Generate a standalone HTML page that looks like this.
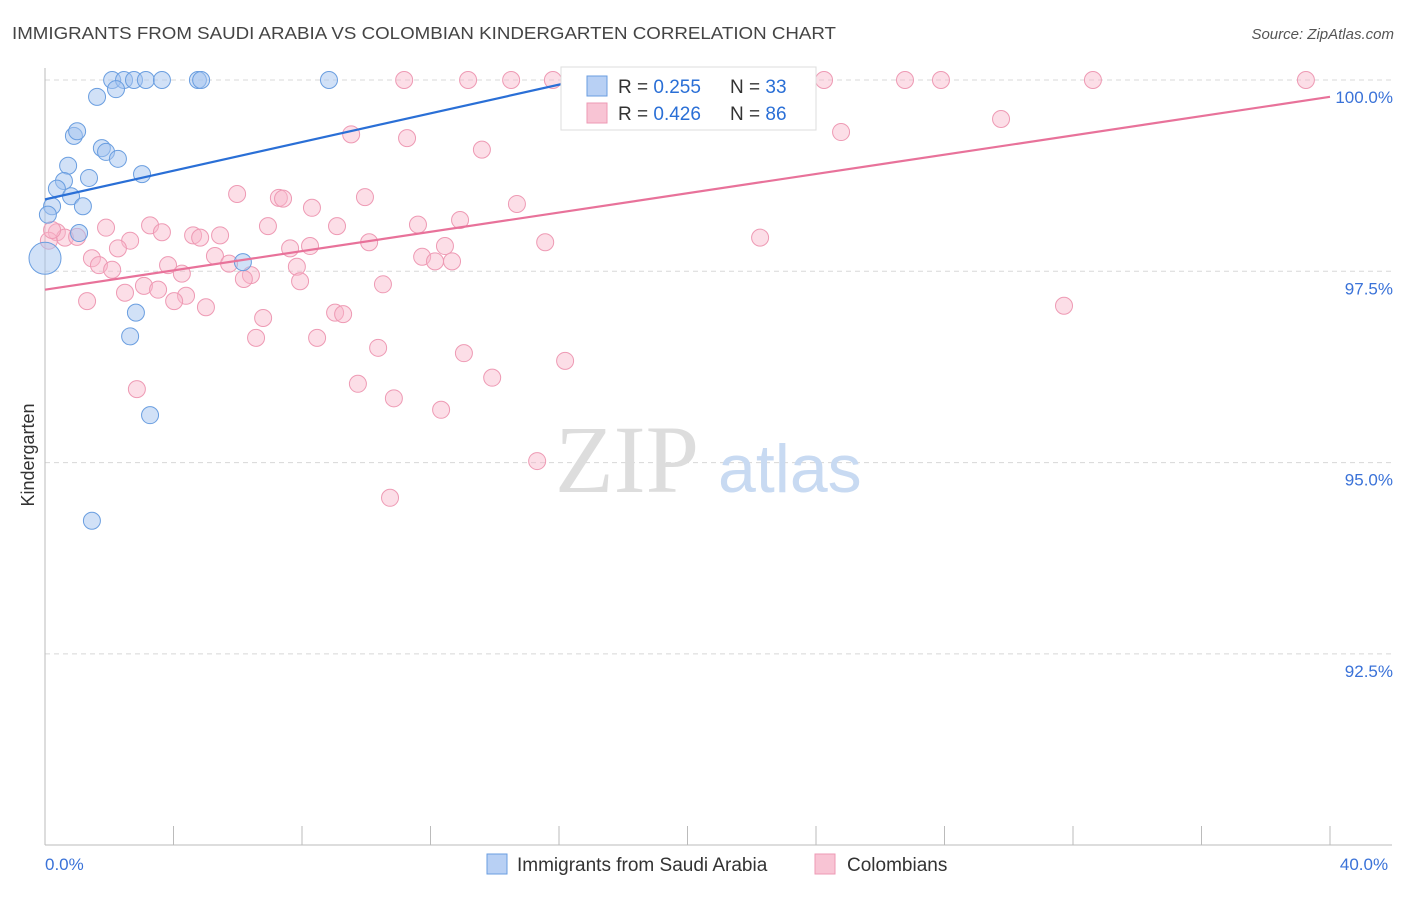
<!DOCTYPE html>
<html><head><meta charset="utf-8"><style>
body{margin:0;background:#fff;font-family:"Liberation Sans",sans-serif;}
svg text{font-family:"Liberation Sans",sans-serif;}
</style></head><body>
<svg width="1406" height="892" xmlns="http://www.w3.org/2000/svg" id="chart">
<text x="12" y="39" font-size="17.5" fill="#444" textLength="824" lengthAdjust="spacingAndGlyphs">IMMIGRANTS FROM SAUDI ARABIA VS COLOMBIAN KINDERGARTEN CORRELATION CHART</text>
<text x="1394" y="39" font-size="15" fill="#555" text-anchor="end" font-style="italic">Source: ZipAtlas.com</text>
<g id="grid"></g>
<g id="axes"></g>
<text x="555" y="492" font-size="96" fill="#ddd" style="font-family:'Liberation Serif',serif">ZIP</text>
<text x="718" y="492" font-size="68" fill="#c8daf2">atlas</text>
<g id="pink"></g>
<g id="blue"></g>
<g id="lines"></g>
<g>
<rect x="561" y="67" width="255" height="63" fill="#fff" stroke="#ddd"/>
<rect x="587" y="76" width="20" height="20" fill="#b8d0f4" stroke="#6a9ee0"/>
<text x="618" y="93" font-size="19" fill="#333">R = <tspan fill="#2a6fd6">0.255</tspan></text>
<text x="730" y="93" font-size="19" fill="#333">N = <tspan fill="#2a6fd6">33</tspan></text>
<rect x="587" y="103" width="20" height="20" fill="#f8c4d4" stroke="#ee9ab4"/>
<text x="618" y="120" font-size="19" fill="#333">R = <tspan fill="#2a6fd6">0.426</tspan></text>
<text x="730" y="120" font-size="19" fill="#333">N = <tspan fill="#2a6fd6">86</tspan></text>
</g>
<text transform="translate(34,455) rotate(-90)" font-size="18" fill="#333" text-anchor="middle">Kindergarten</text>
<g>
<rect x="487" y="854" width="20" height="20" fill="#b8d0f4" stroke="#6a9ee0"/>
<text x="517" y="871" font-size="19" fill="#333">Immigrants from Saudi Arabia</text>
<rect x="815" y="854" width="20" height="20" fill="#f8c4d4" stroke="#ee9ab4"/>
<text x="847" y="871" font-size="19" fill="#333">Colombians</text>
</g>
</svg>
<script>
const yTicks=[100,97.5,95,92.5];
const yTickLabels=["100.0%","97.5%","95.0%","92.5%"];
const xTicks=[0,4,8,12,16,20,24,28,32,36,40];
const xEndLabels=["0.0%","40.0%"];
const blueX=[2.09,2.46,2.77,3.14,3.64,4.76,4.86,8.84,1.62,2.21,0.90,1.00,1.77,1.90,2.27,0.72,1.37,3.02,0.59,0.37,0.81,1.18,0.22,0.09,1.06,6.16,2.83,2.65,3.27,1.46,0];
const blueY=[100,100,100,100,100,100,100,100,99.78,99.88,99.27,99.33,99.11,99.06,98.97,98.88,98.72,98.77,98.68,98.58,98.48,98.35,98.35,98.24,98.00,97.62,96.96,96.65,95.62,94.24,97.67];
const pinkX=[11.18,13.17,14.51,15.81,24.25,26.77,27.89,32.62,39.25,9.53,11.27,13.60,24.78,29.76,5.98,7.28,7.41,9.96,8.31,14.69,12.92,11.61,3.27,6.94,9.09,1.90,0.37,3.64,4.61,5.45,4.83,2.65,10.09,15.57,22.26,7.63,8.25,12.45,2.27,1.46,5.29,11.74,12.14,12.67,5.73,3.83,1.68,2.09,7.84,4.26,6.41,6.19,7.94,10.52,3.08,3.52,2.49,4.39,4.02,1.31,5.01,6.79,9.03,9.28,31.72,6.57,8.47,10.37,13.04,16.19,13.92,9.74,2.86,10.86,12.33,15.32,10.74,0.62,1.00,0.12,0.22];
const pinkY=[100,100,100,100,100,100,100,100,100,99.29,99.24,99.09,99.32,99.49,98.51,98.46,98.45,98.47,98.33,98.38,98.17,98.11,98.10,98.09,98.09,98.07,98.01,98.01,97.97,97.97,97.94,97.90,97.88,97.88,97.94,97.80,97.83,97.83,97.80,97.67,97.70,97.69,97.63,97.63,97.60,97.58,97.58,97.52,97.56,97.47,97.45,97.40,97.37,97.33,97.31,97.26,97.22,97.18,97.11,97.11,97.03,96.89,96.96,96.94,97.05,96.63,96.63,96.50,96.43,96.33,96.11,96.03,95.96,95.84,95.69,95.02,94.54,97.94,97.95,97.90,98.04];
const blueLine=[[0,98.44],[16.65,100]];
const pinkLine=[[0,97.26],[40,99.78]];
const NS="http://www.w3.org/2000/svg";
const sx=v=>45+v/40*1285;
const sy=v=>80+(100-v)/2.5*191.3;
function mk(tag,attrs,parent){const e=document.createElementNS(NS,tag);for(const k in attrs)e.setAttribute(k,attrs[k]);parent.appendChild(e);return e;}
const grid=document.getElementById('grid'),axes=document.getElementById('axes');
yTicks.forEach((t,i)=>{
 const l=mk('line',{x1:45,x2:1392,y1:sy(t),y2:sy(t),stroke:'#d8d8d8','stroke-dasharray':'5,4'},grid);
 
 
 const tx=mk('text',{x:1393,y:sy(t)+23,'font-size':17,fill:'#3a72d8','text-anchor':'end'},axes);
 tx.textContent=yTickLabels[i];
 
 
});
const ya=mk('line',{x1:45,x2:45,y1:68,y2:845,stroke:'#bbb'},axes);


const xa=mk('line',{x1:45,x2:1392,y1:845,y2:845,stroke:'#bbb'},axes);


xTicks.forEach(t=>{
 const l=mk('line',{x1:sx(t),x2:sx(t),y1:826,y2:845,stroke:'#bbb'},axes);
 
 
});
[[0,'start',xEndLabels[0]],[40,'middle',xEndLabels[1]]].forEach(([v,a,s])=>{
 const tx=mk('text',{x:v===0?45:1364,y:870,'font-size':17,fill:'#3a72d8','text-anchor':a},axes);
 tx.textContent=s;
 
 
});
const pg=document.getElementById('pink');
pinkX.forEach((x,i)=>{
 const c=mk('circle',{cx:sx(x),cy:sy(pinkY[i]),r:8.5,fill:'rgba(248,182,202,0.45)',stroke:'#ee9ab4','stroke-width':1},pg);
 
 
});
const bg=document.getElementById('blue');
blueX.forEach((x,i)=>{
 const c=mk('circle',{cx:sx(x),cy:sy(blueY[i]),r:i===blueX.length-1?16:8.5,fill:'rgba(164,196,240,0.5)',stroke:'#6a9ee0','stroke-width':1},bg);
 
 
});
const lg=document.getElementById('lines');
const bl=mk('line',{x1:sx(blueLine[0][0]),y1:sy(blueLine[0][1]),x2:sx(blueLine[1][0]),y2:sy(blueLine[1][1]),stroke:'#2a6fd6','stroke-width':2.2},lg);


const pl=mk('line',{x1:sx(pinkLine[0][0]),y1:sy(pinkLine[0][1]),x2:sx(pinkLine[1][0]),y2:sy(pinkLine[1][1]),stroke:'#e8729a','stroke-width':2.2},lg);


</script>
</body></html>
